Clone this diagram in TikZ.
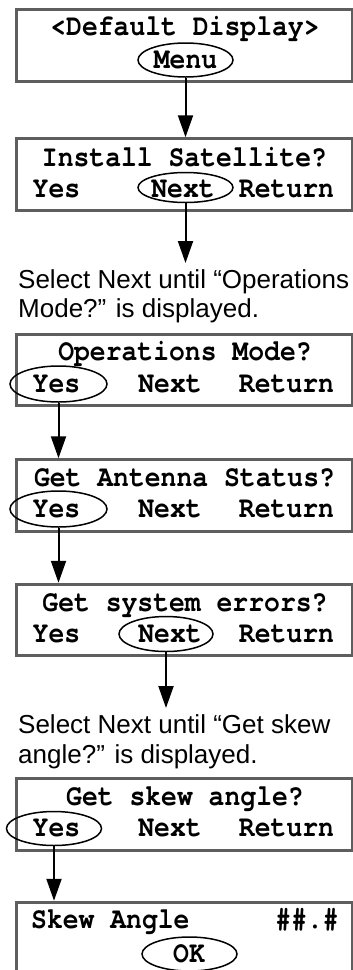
\documentclass[tikz,border=0pt]{standalone}
\usepackage{fontspec}
\setmainfont{Liberation Sans}
\newfontfamily\lcdfont{texgyrecursor}[Extension=.otf, UprightFont=*-regular, BoldFont=*-bold, FakeStretch=0.88]
\usetikzlibrary{arrows.meta,shapes.geometric}
\definecolor{boxgray}{HTML}{5E5E5E}
\tikzset{
  lcdbox/.style={draw=boxgray, line width=3pt, minimum width=336pt, minimum height=71.5pt, inner sep=0pt},
  word/.style={font=\lcdfont\bfseries\fontsize{30}{30}\selectfont, anchor=base, inner sep=0pt},
  oval/.style={draw, ellipse, line width=1.5pt, inner sep=0pt, minimum width=95pt, minimum height=34pt},
  arr/.style={-{Triangle[length=22pt,width=15pt]}, line width=2pt},
  note/.style={font=\fontsize{26}{26}\selectfont, anchor=base west, inner sep=0pt}
}
\begin{document}
\begin{tikzpicture}[x=1pt,y=-1pt]
\useasboundingbox (0,0) rectangle (353,970);
\fill[white] (0,0) rectangle (353,970);

% box 1
\node[lcdbox] (b1) at (184.5,45.5) {};
\node[word] (t1) at (185,35) {<Default Display>};
\node[oval] (m1) at (185.5,60) {};
\node[word] (w1) at (185.5,68) {Menu};

% box 2
\node[lcdbox] (b2) at (184.5,174.5) {};
\node[word] (t2) at (184.5,166.5) {Install Satellite?};
\node[oval, minimum height=30pt] (n2) at (185.5,187.5) {};
\node[word] (y2) at (56.5,197) {Yes};
\node[word] (x2) at (183,197) {Next};
\node[word] (r2) at (286.5,197) {Return};

\coordinate (c1) at (187,263);
\node[note] (s1a) at (18,288) {Select Next until “Operations};
\node[note] (s1b) at (18,317.5) {Mode?” is displayed.};

% box 3
\node[lcdbox] (b3) at (184.5,370) {};
\node[word] (t3) at (185,360.5) {Operations Mode?};
\node[oval, minimum width=97pt, minimum height=36pt] (o3) at (58.5,384) {};
\node[word] (y3) at (56.5,392) {Yes};
\node[word] (x3) at (170,392) {Next};
\node[word] (r3) at (286.5,392) {Return};

% box 4
\node[lcdbox] (b4) at (184.5,495.5) {};
\node[word] (t4) at (184.5,486) {Get Antenna Status?};
\node[oval, minimum width=97pt, minimum height=36pt] (o4) at (58.5,509) {};
\node[word] (y4) at (56.5,517) {Yes};
\node[word] (x4) at (170,517) {Next};
\node[word] (r4) at (286.5,517) {Return};

% box 5
\node[lcdbox] (b5) at (184.5,620) {};
\node[word] (t5) at (185,611) {Get system errors?};
\node[oval, minimum width=94pt, minimum height=35pt] (o5) at (166,634) {};
\node[word] (y5) at (56.5,642) {Yes};
\node[word] (x5) at (170,642) {Next};
\node[word] (r5) at (286.5,642) {Return};

\coordinate (c2) at (166,708);
\node[note] (s2a) at (18,733) {Select Next until “Get skew};
\node[note] (s2b) at (18,763) {angle?” is displayed.};

% box 6
\node[lcdbox] (b6) at (184.5,814.5) {};
\node[word] (t6) at (185,805.5) {Get skew angle?};
\node[oval] (o6) at (54,828.5) {};
\node[word] (y6) at (56.5,836.5) {Yes};
\node[word] (x6) at (170,836.5) {Next};
\node[word] (r6) at (286.5,836.5) {Return};

% box 7
\node[lcdbox] (b7) at (184.5,938) {};
\node[word, anchor=base west] (t7) at (31,928.5) {Skew Angle};
\node[word, anchor=base east] (h7) at (339,928.5) {\#\#.\#};
\node[oval] (o7) at (189.5,954) {};
\node[word] (k7) at (189,962) {OK};

% arrows
\draw[arr] (m1.south) -- (m1.south |- b2.north);
\draw[arr] (n2.south) -- (n2.south |- c1);
\draw[arr] (o3.south) -- (o3.south |- b4.north);
\draw[arr] (o4.south) -- (o4.south |- b5.north);
\draw[arr] (o5.south) -- (o5.south |- c2);
\draw[arr] (o6.south) -- (o6.south |- b7.north);
\end{tikzpicture}
\end{document}
